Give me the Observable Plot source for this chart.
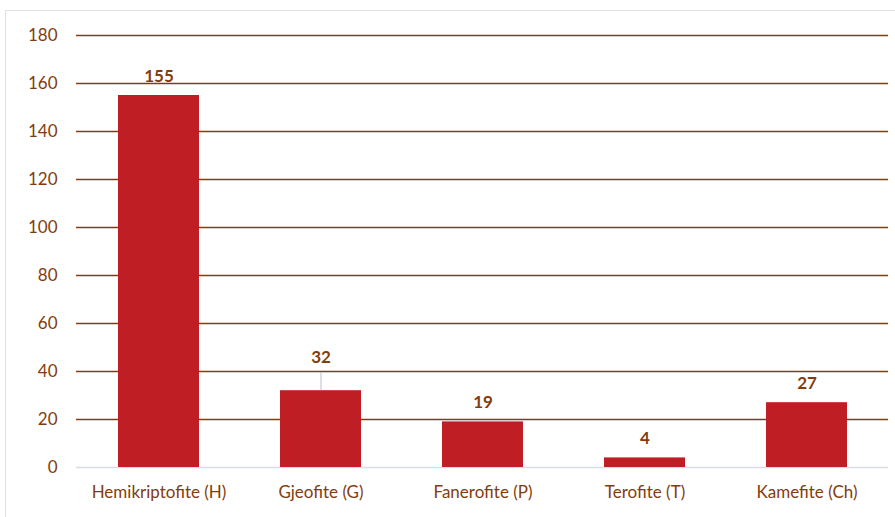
<!DOCTYPE html>
<html><head><meta charset="utf-8">
<script src="https://cdn.jsdelivr.net/npm/d3@7"></script>
<script src="https://cdn.jsdelivr.net/npm/@observablehq/plot@0.6"></script>
<style>
html,body{margin:0;padding:0;background:#fff;overflow:hidden;}
#frame{position:absolute;left:5px;top:10px;width:900px;height:520px;border:1px solid #dde1e6;box-sizing:border-box;}
#chart{position:absolute;left:0;top:0;}
</style></head>
<body>
<div id="frame"></div>
<div id="chart"></div>
<script>
const categories = ["Hemikriptofite (H)", "Gjeofite (G)", "Fanerofite (P)", "Terofite (T)", "Kamefite (Ch)"];
const values = [155, 32, 19, 4, 27];
const yTicks = [0, 20, 40, 60, 80, 100, 120, 140, 160, 180];

const data = categories.map((c, i) => ({cat: c, value: values[i]}));
const brown = "#843c0c";
const barColor = "#be1e24";
const font = "Lato, 'Open Sans', sans-serif";
const leader = data.filter(d => d.cat === "Gjeofite (G)");
const normal = data.filter(d => d.cat !== "Gjeofite (G)");

const plot = Plot.plot({
  width: 895, height: 517,
  marginTop: 35, marginBottom: 50, marginLeft: 76, marginRight: 7,
  style: {fontFamily: font, background: "transparent", overflow: "visible"},
  x: {domain: categories, paddingInner: 0.5, paddingOuter: 0.25, label: null},
  y: {domain: [0, 180], ticks: yTicks, label: null},
  marks: [
    Plot.gridY(yTicks.filter(t => t > 0), {stroke: brown, strokeOpacity: 1, strokeWidth: 1.3}),
    Plot.ruleY([0], {stroke: "#d9dde3", strokeWidth: 1.5}),
    Plot.barY(data, {x: "cat", y: "value", fill: barColor}),
    Plot.ruleX(leader, {x: "cat", y1: "value", y2: d => d.value + 7.5, stroke: "#b4bfcc", strokeWidth: 1}),
    Plot.text(normal, {x: "cat", y: "value", text: d => String(d.value), dy: -19, fill: brown, fontWeight: "bold", fontSize: 17}),
    Plot.text(leader, {x: "cat", y: "value", text: d => String(d.value), dy: -33, fill: brown, fontWeight: "bold", fontSize: 17}),
    Plot.axisY({ticks: yTicks, tickSize: 0, tickPadding: 19, fill: brown, fontSize: 17}),
    Plot.axisX({tickSize: 0, tickPadding: 18, fill: brown, fontSize: 17})
  ]
});
document.getElementById("chart").appendChild(plot);
</script>
</body></html>
